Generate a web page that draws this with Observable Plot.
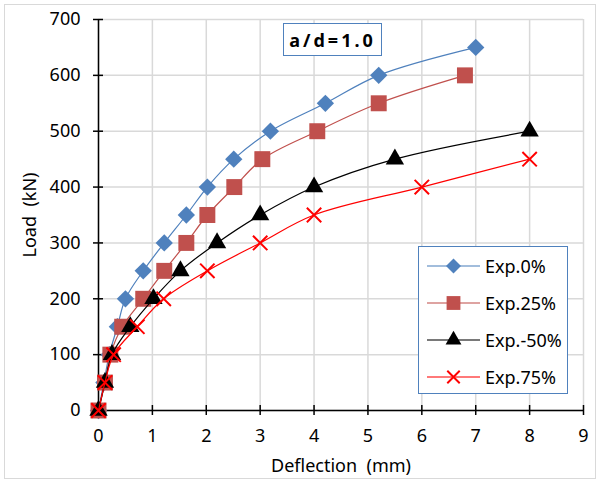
<!DOCTYPE html>
<html><head><meta charset="utf-8">
<script src="https://cdn.jsdelivr.net/npm/d3@7"></script>
<script src="https://cdn.jsdelivr.net/npm/@observablehq/plot@0.6"></script>
<style>
body{margin:0;background:#fff;}
#wrap{position:relative;width:599px;height:483px;font-family:"Noto Sans",sans-serif;color:#000;}
#wrap svg.plot{position:absolute;left:0;top:0;}
#border{position:absolute;left:4px;top:4px;width:590px;height:473px;border:1px solid #d9d9d9;pointer-events:none;}
#title{position:absolute;left:283px;top:23px;width:97px;height:31px;border:1.5px solid #4f81bd;background:#fff;font-weight:bold;font-size:18px;letter-spacing:3px;display:flex;align-items:center;justify-content:center;}
#legend{position:absolute;left:418px;top:246px;width:148px;height:146px;border:1.5px solid #4f81bd;background:#fff;}
.lrow{position:absolute;left:0;height:30px;width:148px;}
.lrow svg{position:absolute;left:0;top:0;}
.lrow span{position:absolute;left:66px;top:2px;font-size:18px;line-height:26px;}
</style>
</head><body>
<div id="wrap"><div id="border"></div></div>
<script>
// ---- data ----
const xTicks = [0,1,2,3,4,5,6,7,8,9];
const yTicks = [0,100,200,300,400,500,600,700];
const seriesNames = ["Exp.0%","Exp.25%","Exp.-50%","Exp.75%"];

const deflExp0  = [0,0.10,0.20,0.35,0.50,0.83,1.22,1.63,2.02,2.51,3.19,4.21,5.20,7.00];
const loadExp0  = [0,50,100,150,200,250,300,350,400,450,500,550,600,650];

const deflExp25 = [0,0.12,0.22,0.44,0.83,1.22,1.63,2.02,2.52,3.04,4.06,5.20,6.80];
const loadExp25 = [0,50,100,150,200,250,300,350,400,450,500,550,600];

const deflExp50 = [0,0.12,0.25,0.59,1.02,1.52,2.20,3.00,4.00,5.50,8.00];
const loadExp50 = [0,50,100,150,200,250,300,350,400,450,500];

const deflExp75 = [0,0.12,0.28,0.72,1.21,2.02,3.00,4.00,6.00,8.00];
const loadExp75 = [0,50,100,150,200,250,300,350,400,450];

const titleText = "a/d=1.0";
const xLabel = "Deflection\u00a0 (mm)";
const yLabel = "Load\u00a0 (kN)";

// ---- styles ----
const styles = [
  {line:"#4f81bd", symbol:"diamond2", r:7.8, fill:"#4f81bd", stroke:"none", sw:0},
  {line:"#c0504d", symbol:"square",   r:9.0, fill:"#c0504d", stroke:"none", sw:0},
  {line:"#000000", symbol:"triangle", r:6.8, fill:"#000000", stroke:"none", sw:0},
  {line:"#ff0000", symbol:"times",    r:6.6, fill:"none",    stroke:"#ff0000", sw:2}
];
const defl = [deflExp0, deflExp25, deflExp50, deflExp75];
const load = [loadExp0, loadExp25, loadExp50, loadExp75];
const series = seriesNames.map((name,i)=>({name, style:styles[i],
  rows: defl[i].map((d,j)=>({x:d, y:load[i][j]}))}));

const seriesMarks = [];
series.forEach(s=>{
  seriesMarks.push(Plot.line(s.rows,{x:"x", y:"y", stroke:s.style.line, strokeWidth:1.2, curve:"catmull-rom"}));
  seriesMarks.push(Plot.dot(s.rows,{x:"x", y:"y", symbol:()=>s.style.symbol, r:s.style.r,
    fill:s.style.fill, stroke:s.style.stroke, strokeWidth:s.style.sw}));
});

const chart = Plot.plot({
  width:599, height:483,
  marginLeft:98, marginRight:16, marginTop:19, marginBottom:73,
  x:{domain:[0,9]}, y:{domain:[0,700]},
  symbol:{type:"identity"},
  style:{fontFamily:"Noto Sans", fontSize:"18px", color:"#000", background:"transparent", overflow:"visible"},
  marks:[
    Plot.ruleX(xTicks,{stroke:"#d9d9d9", strokeWidth:1.5}),
    Plot.ruleY(yTicks,{stroke:"#d9d9d9", strokeWidth:1.5}),
    Plot.ruleX([0],{stroke:"#000", strokeWidth:1.5}),
    Plot.ruleY([0],{stroke:"#000", strokeWidth:1.5}),
    Plot.axisX({ticks:xTicks, tickSize:10, dy:-5, tickFormat:()=>"", label:null, stroke:"#000", strokeWidth:1.5}),
    Plot.axisX({ticks:xTicks, tickSize:0, tickPadding:19, label:xLabel, labelAnchor:"center", labelArrow:"none", labelOffset:61, fill:"#000"}),
    Plot.axisY({ticks:yTicks, tickSize:10, dx:5, tickFormat:()=>"", label:null, stroke:"#000", strokeWidth:1.5}),
    Plot.axisY({ticks:yTicks, tickSize:0, tickPadding:18, label:yLabel, labelAnchor:"center", labelArrow:"none", labelOffset:75, fill:"#000"}),
    ...seriesMarks
  ]
});
chart.classList.add("plot");
const wrap = document.getElementById("wrap");
wrap.insertBefore(chart, wrap.firstChild);

// title box
const t = document.createElement("div");
t.id = "title"; t.textContent = titleText;
wrap.appendChild(t);

// legend
const lg = document.createElement("div");
lg.id = "legend";
series.forEach((s,i)=>{
  const row = document.createElement("div");
  row.className = "lrow";
  row.style.top = (4 + i*37) + "px";
  const svg = d3.create("svg").attr("width",66).attr("height",30);
  svg.append("line").attr("x1",8).attr("x2",61).attr("y1",15).attr("y2",15)
     .attr("stroke", s.style.line).attr("stroke-opacity",0.7).attr("stroke-width",1.5);
  const symMap = {diamond2:d3.symbolDiamond2, square:d3.symbolSquare, triangle:d3.symbolTriangle, times:d3.symbolTimes};
  svg.append("path").attr("transform","translate(34.5,15)")
     .attr("d", d3.symbol(symMap[s.style.symbol], Math.PI*s.style.r*s.style.r*0.75)())
     .attr("fill", s.style.fill).attr("stroke", s.style.stroke).attr("stroke-width", s.style.sw);
  row.appendChild(svg.node());
  const sp = document.createElement("span");
  sp.textContent = s.name;
  row.appendChild(sp);
  lg.appendChild(row);
});
wrap.appendChild(lg);
</script>
</body></html>
